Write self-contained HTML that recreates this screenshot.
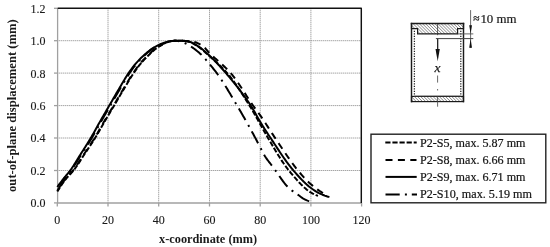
<!DOCTYPE html>
<html><head><meta charset="utf-8"><style>
html,body{margin:0;padding:0;background:#fff;width:550px;height:247px;overflow:hidden}
svg{display:block;will-change:transform}
text{font-family:"Liberation Serif",serif;fill:#1a1a1a}
</style></head><body>
<svg width="550" height="247" viewBox="0 0 550 247">
<defs>
<pattern id="hatch" patternUnits="userSpaceOnUse" width="2.2" height="2.2" patternTransform="rotate(-45)">
<line x1="0" y1="0" x2="0" y2="2.2" stroke="#2a2a2a" stroke-width="0.8"/>
</pattern>
</defs>
<g stroke="#808080" stroke-width="1" stroke-dasharray="1 1" fill="none">
<line x1="57.3" y1="170.5" x2="361.2" y2="170.5"/><line x1="57.3" y1="138.0" x2="361.2" y2="138.0"/><line x1="57.3" y1="105.6" x2="361.2" y2="105.6"/><line x1="57.3" y1="73.1" x2="361.2" y2="73.1"/><line x1="57.3" y1="40.7" x2="361.2" y2="40.7"/><line x1="108.0" y1="8.3" x2="108.0" y2="202.9"/><line x1="158.7" y1="8.3" x2="158.7" y2="202.9"/><line x1="209.5" y1="8.3" x2="209.5" y2="202.9"/><line x1="260.2" y1="8.3" x2="260.2" y2="202.9"/><line x1="310.9" y1="8.3" x2="310.9" y2="202.9"/>
</g>
<g stroke="#a0a0a0" stroke-width="1.3" fill="none">
<line x1="54" y1="202.9" x2="57.3" y2="202.9"/><line x1="54" y1="170.5" x2="57.3" y2="170.5"/><line x1="54" y1="138.0" x2="57.3" y2="138.0"/><line x1="54" y1="105.6" x2="57.3" y2="105.6"/><line x1="54" y1="73.1" x2="57.3" y2="73.1"/><line x1="54" y1="40.7" x2="57.3" y2="40.7"/><line x1="54" y1="8.3" x2="57.3" y2="8.3"/><line x1="57.3" y1="202.9" x2="57.3" y2="206.5"/><line x1="108.0" y1="202.9" x2="108.0" y2="206.5"/><line x1="158.7" y1="202.9" x2="158.7" y2="206.5"/><line x1="209.5" y1="202.9" x2="209.5" y2="206.5"/><line x1="260.2" y1="202.9" x2="260.2" y2="206.5"/><line x1="310.9" y1="202.9" x2="310.9" y2="206.5"/><line x1="361.6" y1="202.9" x2="361.6" y2="206.5"/>
<line x1="57.6" y1="8.2" x2="57.6" y2="203"/>
<line x1="57.6" y1="203" x2="361.3" y2="203"/>
</g>
<g stroke="#111" stroke-width="1.45" stroke-linejoin="round" fill="none">
<path d="M57.6,8.2 H361.3 V203"/>
</g>
<g font-size="12" stroke="#1a1a1a" stroke-width="0.12">
<text x="45.6" y="207.3" text-anchor="end" textLength="15" lengthAdjust="spacingAndGlyphs">0.0</text><text x="45.6" y="174.9" text-anchor="end" textLength="15" lengthAdjust="spacingAndGlyphs">0.2</text><text x="45.6" y="142.4" text-anchor="end" textLength="15" lengthAdjust="spacingAndGlyphs">0.4</text><text x="45.6" y="110.0" text-anchor="end" textLength="15" lengthAdjust="spacingAndGlyphs">0.6</text><text x="45.6" y="77.5" text-anchor="end" textLength="15" lengthAdjust="spacingAndGlyphs">0.8</text><text x="45.6" y="45.1" text-anchor="end" textLength="15" lengthAdjust="spacingAndGlyphs">1.0</text><text x="45.6" y="12.7" text-anchor="end" textLength="15" lengthAdjust="spacingAndGlyphs">1.2</text>
<text x="57.3" y="224.3" text-anchor="middle">0</text><text x="108.0" y="224.3" text-anchor="middle">20</text><text x="158.7" y="224.3" text-anchor="middle">40</text><text x="209.5" y="224.3" text-anchor="middle">60</text><text x="260.2" y="224.3" text-anchor="middle">80</text><text x="310.9" y="224.3" text-anchor="middle">100</text><text x="361.6" y="224.3" text-anchor="middle">120</text>
</g>
<text x="208.1" y="242.6" text-anchor="middle" font-weight="bold" font-size="12.3">x-coordinate (mm)</text>
<text transform="translate(16.1,105.6) rotate(-90)" text-anchor="middle" font-weight="bold" font-size="12.65">out-of-plane displacement (mm)</text>
<g fill="none" stroke="#000" stroke-width="2" stroke-linejoin="round">
<path d="M57.30,187.00 L57.98,186.07 L58.66,185.14 L59.35,184.21 L60.03,183.30 L60.71,182.39 L61.39,181.49 L62.07,180.59 L62.76,179.71 L63.44,178.83 L64.12,177.96 L64.80,177.13 L65.48,176.31 L66.17,175.50 L66.85,174.69 L67.53,173.88 L68.21,173.06 L68.89,172.21 L69.58,171.34 L70.26,170.43 L70.94,169.48 L71.62,168.50 L72.30,167.50 L72.99,166.47 L73.67,165.42 L74.35,164.35 L75.03,163.27 L75.71,162.18 L76.40,161.08 L77.08,159.97 L77.76,158.86 L78.44,157.75 L79.12,156.65 L79.81,155.55 L80.49,154.47 L81.17,153.39 L81.85,152.32 L82.53,151.25 L83.22,150.18 L83.90,149.11 L84.58,148.04 L85.26,146.96 L85.94,145.88 L86.63,144.80 L87.31,143.71 L87.99,142.61 L88.67,141.50 L89.35,140.39 L90.04,139.26 L90.72,138.12 L91.40,136.96 L92.08,135.78 L92.76,134.59 L93.45,133.39 L94.13,132.17 L94.81,130.94 L95.49,129.71 L96.17,128.48 L96.86,127.25 L97.54,126.02 L98.22,124.79 L98.90,123.57 L99.58,122.37 L100.27,121.17 L100.95,119.98 L101.63,118.79 L102.31,117.61 L102.99,116.43 L103.68,115.25 L104.36,114.07 L105.04,112.90 L105.72,111.72 L106.40,110.55 L107.09,109.37 L107.77,108.20 L108.45,107.03 L109.13,105.85 L109.81,104.67 L110.49,103.49 L111.18,102.31 L111.86,101.13 L112.54,99.94 L113.22,98.76 L113.90,97.58 L114.59,96.40 L115.27,95.22 L115.95,94.04 L116.63,92.87 L117.31,91.71 L118.00,90.55 L118.68,89.39 L119.36,88.24 L120.04,87.09 L120.72,85.93 L121.41,84.77 L122.09,83.60 L122.77,82.44 L123.45,81.29 L124.13,80.14 L124.82,79.01 L125.50,77.89 L126.18,76.79 L126.86,75.71 L127.54,74.66 L128.23,73.63 L128.91,72.64 L129.59,71.65 L130.27,70.68 L130.95,69.73 L131.64,68.79 L132.32,67.87 L133.00,66.97 L133.68,66.09 L134.36,65.23 L135.05,64.40 L135.73,63.59 L136.41,62.81 L137.09,62.05 L137.77,61.31 L138.46,60.58 L139.14,59.87 L139.82,59.18 L140.50,58.50 L141.18,57.84 L141.87,57.19 L142.55,56.55 L143.23,55.92 L143.91,55.31 L144.59,54.70 L145.28,54.10 L145.96,53.50 L146.64,52.91 L147.32,52.33 L148.00,51.76 L148.69,51.20 L149.37,50.66 L150.05,50.13 L150.73,49.63 L151.41,49.14 L152.10,48.68 L152.78,48.25 L153.46,47.82 L154.14,47.42 L154.82,47.03 L155.51,46.65 L156.19,46.29 L156.87,45.94 L157.55,45.60 L158.23,45.27 L158.92,44.95 L159.60,44.64 L160.28,44.33 L160.96,44.03 L161.64,43.74 L162.33,43.45 L163.01,43.18 L163.69,42.92 L164.37,42.69 L165.05,42.47 L165.74,42.28 L166.42,42.10 L167.10,41.92 L167.78,41.75 L168.46,41.59 L169.15,41.44 L169.83,41.31 L170.51,41.20 L171.19,41.10 L171.87,41.03 L172.56,40.97 L173.24,40.92 L173.92,40.87 L174.60,40.82 L175.28,40.78 L175.97,40.75 L176.65,40.72 L177.33,40.71 L178.01,40.70 L178.69,40.70 L179.38,40.71 L180.06,40.73 L180.74,40.76 L181.42,40.79 L182.10,40.83 L182.79,40.87 L183.47,40.92 L184.15,40.97 L184.83,41.03 L185.51,41.09 L186.20,41.16 L186.88,41.23 L187.56,41.31 L188.24,41.39 L188.92,41.53 L189.61,41.71 L190.29,41.94 L190.97,42.21 L191.65,42.51 L192.33,42.84 L193.02,43.20 L193.70,43.58 L194.38,43.98 L195.06,44.39 L195.74,44.80 L196.43,45.22 L197.11,45.63 L197.79,46.04 L198.47,46.47 L199.15,46.92 L199.84,47.39 L200.52,47.89 L201.20,48.40 L201.88,48.94 L202.56,49.49 L203.25,50.06 L203.93,50.64 L204.61,51.23 L205.29,51.83 L205.97,52.44 L206.66,53.05 L207.34,53.68 L208.02,54.30 L208.70,54.93 L209.38,55.55 L210.07,56.18 L210.75,56.82 L211.43,57.47 L212.11,58.13 L212.79,58.80 L213.48,59.48 L214.16,60.17 L214.84,60.86 L215.52,61.57 L216.20,62.28 L216.88,63.00 L217.57,63.73 L218.25,64.46 L218.93,65.20 L219.61,65.95 L220.29,66.71 L220.98,67.46 L221.66,68.23 L222.34,69.00 L223.02,69.77 L223.70,70.55 L224.39,71.34 L225.07,72.12 L225.75,72.92 L226.43,73.71 L227.11,74.51 L227.80,75.31 L228.48,76.11 L229.16,76.92 L229.84,77.73 L230.52,78.54 L231.21,79.36 L231.89,80.18 L232.57,81.01 L233.25,81.84 L233.93,82.68 L234.62,83.52 L235.30,84.36 L235.98,85.22 L236.66,86.08 L237.34,86.94 L238.03,87.81 L238.71,88.69 L239.39,89.58 L240.07,90.47 L240.75,91.37 L241.44,92.27 L242.12,93.19 L242.80,94.11 L243.48,95.04 L244.16,95.98 L244.85,96.92 L245.53,97.88 L246.21,98.84 L246.89,99.82 L247.57,100.80 L248.26,101.79 L248.94,102.80 L249.62,103.81 L250.30,104.83 L250.98,105.87 L251.67,106.94 L252.35,108.05 L253.03,109.20 L253.71,110.38 L254.39,111.59 L255.08,112.81 L255.76,114.03 L256.44,115.27 L257.12,116.49 L257.80,117.71 L258.49,118.92 L259.17,120.10 L259.85,121.25 L260.53,122.38 L261.21,123.49 L261.90,124.59 L262.58,125.68 L263.26,126.77 L263.94,127.85 L264.62,128.92 L265.31,129.99 L265.99,131.04 L266.67,132.10 L267.35,133.14 L268.03,134.18 L268.72,135.22 L269.40,136.25 L270.08,137.27 L270.76,138.30 L271.44,139.32 L272.13,140.35 L272.81,141.38 L273.49,142.41 L274.17,143.44 L274.85,144.48 L275.54,145.51 L276.22,146.54 L276.90,147.58 L277.58,148.61 L278.26,149.64 L278.95,150.66 L279.63,151.68 L280.31,152.70 L280.99,153.71 L281.67,154.72 L282.36,155.72 L283.04,156.71 L283.72,157.70 L284.40,158.67 L285.08,159.64 L285.77,160.60 L286.45,161.55 L287.13,162.48 L287.81,163.41 L288.49,164.32 L289.18,165.22 L289.86,166.10 L290.54,166.97 L291.22,167.83 L291.90,168.67 L292.59,169.50 L293.27,170.30 L293.95,171.10 L294.63,171.89 L295.31,172.67 L296.00,173.45 L296.68,174.22 L297.36,174.99 L298.04,175.75 L298.72,176.50 L299.41,177.24 L300.09,177.97 L300.77,178.70 L301.45,179.41 L302.13,180.12 L302.82,180.81 L303.50,181.49 L304.18,182.16 L304.86,182.81 L305.54,183.46 L306.23,184.08 L306.91,184.70 L307.59,185.30 L308.27,185.88 L308.95,186.45 L309.64,187.00 L310.32,187.54 L311.00,188.05 L311.68,188.55 L312.36,189.05 L313.05,189.53 L313.73,190.00 L314.41,190.45 L315.09,190.89 L315.77,191.32 L316.46,191.73 L317.14,192.13 L317.82,192.50 L318.50,192.87 L319.18,193.21 L319.86,193.53 L320.55,193.85 L321.23,194.15 L321.91,194.45 L322.59,194.75 L323.27,195.03 L323.96,195.30 L324.64,195.57 L325.32,195.82 L326.00,196.06 L326.68,196.29 L327.37,196.50 L328.05,196.70 L328.73,196.89 L329.41,197.06"/>
<path d="M57.30,190.74 L57.97,189.67 L58.65,188.61 L59.32,187.58 L59.99,186.56 L60.67,185.56 L61.34,184.58 L62.02,183.62 L62.69,182.67 L63.36,181.75 L64.04,180.84 L64.71,179.96 L65.38,179.09 L66.06,178.24 L66.73,177.44 L67.41,176.68 L68.08,175.94 L68.75,175.22 L69.43,174.51 L70.10,173.80 L70.77,173.07 L71.45,172.33 L72.12,171.56 L72.80,170.75 L73.47,169.89 L74.14,168.99 L74.82,168.07 L75.49,167.12 L76.16,166.15 L76.84,165.16 L77.51,164.15 L78.19,163.12 L78.86,162.08 L79.53,161.04 L80.21,159.99 L80.88,158.94 L81.55,157.89 L82.23,156.84 L82.90,155.80 L83.58,154.77 L84.25,153.76 L84.92,152.75 L85.60,151.74 L86.27,150.74 L86.94,149.74 L87.62,148.73 L88.29,147.73 L88.97,146.72 L89.64,145.71 L90.31,144.69 L90.99,143.66 L91.66,142.63 L92.33,141.58 L93.01,140.53 L93.68,139.46 L94.35,138.38 L95.03,137.29 L95.70,136.17 L96.38,135.03 L97.05,133.88 L97.72,132.72 L98.40,131.54 L99.07,130.36 L99.74,129.17 L100.42,127.98 L101.09,126.80 L101.77,125.61 L102.44,124.43 L103.11,123.26 L103.79,122.10 L104.46,120.95 L105.13,119.81 L105.81,118.67 L106.48,117.53 L107.16,116.40 L107.83,115.27 L108.50,114.14 L109.18,113.01 L109.85,111.88 L110.52,110.75 L111.20,109.62 L111.87,108.49 L112.55,107.36 L113.22,106.22 L113.89,105.08 L114.57,103.94 L115.24,102.79 L115.91,101.64 L116.59,100.49 L117.26,99.34 L117.94,98.18 L118.61,97.03 L119.28,95.88 L119.96,94.73 L120.63,93.58 L121.30,92.44 L121.98,91.30 L122.65,90.17 L123.32,89.04 L124.00,87.92 L124.67,86.80 L125.35,85.67 L126.02,84.54 L126.69,83.41 L127.37,82.29 L128.04,81.17 L128.71,80.06 L129.39,78.96 L130.06,77.87 L130.74,76.79 L131.41,75.74 L132.08,74.70 L132.76,73.69 L133.43,72.69 L134.10,71.71 L134.78,70.74 L135.45,69.79 L136.13,68.84 L136.80,67.91 L137.47,67.00 L138.15,66.11 L138.82,65.24 L139.49,64.39 L140.17,63.57 L140.84,62.77 L141.52,62.00 L142.19,61.24 L142.86,60.50 L143.54,59.78 L144.21,59.07 L144.88,58.38 L145.56,57.70 L146.23,57.03 L146.91,56.36 L147.58,55.70 L148.25,55.05 L148.93,54.40 L149.60,53.75 L150.27,53.10 L150.95,52.46 L151.62,51.82 L152.30,51.20 L152.97,50.60 L153.64,50.02 L154.32,49.46 L154.99,48.93 L155.66,48.43 L156.34,47.95 L157.01,47.51 L157.68,47.08 L158.36,46.66 L159.03,46.26 L159.71,45.87 L160.38,45.49 L161.05,45.12 L161.73,44.74 L162.40,44.36 L163.07,43.97 L163.75,43.59 L164.42,43.23 L165.10,42.89 L165.77,42.60 L166.44,42.35 L167.12,42.13 L167.79,41.92 L168.46,41.73 L169.14,41.54 L169.81,41.38 L170.49,41.24 L171.16,41.13 L171.83,41.05 L172.51,41.00 L173.18,40.95 L173.85,40.91 L174.53,40.87 L175.20,40.84 L175.88,40.80 L176.55,40.78 L177.22,40.75 L177.90,40.73 L178.57,40.72 L179.24,40.71 L179.92,40.70 L180.59,40.70 L181.27,40.71 L181.94,40.72 L182.61,40.74 L183.29,40.77 L183.96,40.80 L184.63,40.84 L185.31,40.88 L185.98,40.93 L186.66,40.99 L187.33,41.05 L188.00,41.11 L188.68,41.18 L189.35,41.25 L190.02,41.33 L190.70,41.41 L191.37,41.50 L192.04,41.58 L192.72,41.67 L193.39,41.78 L194.07,41.92 L194.74,42.10 L195.41,42.30 L196.09,42.54 L196.76,42.79 L197.43,43.08 L198.11,43.39 L198.78,43.71 L199.46,44.06 L200.13,44.42 L200.80,44.81 L201.48,45.20 L202.15,45.61 L202.82,46.03 L203.50,46.53 L204.17,47.14 L204.85,47.81 L205.52,48.54 L206.19,49.32 L206.87,50.11 L207.54,50.91 L208.21,51.69 L208.89,52.43 L209.56,53.13 L210.24,53.79 L210.91,54.45 L211.58,55.09 L212.26,55.72 L212.93,56.34 L213.60,56.96 L214.28,57.57 L214.95,58.17 L215.63,58.77 L216.30,59.36 L216.97,59.95 L217.65,60.54 L218.32,61.13 L218.99,61.72 L219.67,62.31 L220.34,62.90 L221.02,63.50 L221.69,64.10 L222.36,64.71 L223.04,65.32 L223.71,65.94 L224.38,66.57 L225.06,67.21 L225.73,67.86 L226.40,68.52 L227.08,69.19 L227.75,69.88 L228.43,70.58 L229.10,71.30 L229.77,72.03 L230.45,72.78 L231.12,73.55 L231.79,74.35 L232.47,75.17 L233.14,76.02 L233.82,76.89 L234.49,77.78 L235.16,78.69 L235.84,79.62 L236.51,80.57 L237.18,81.53 L237.86,82.51 L238.53,83.50 L239.21,84.50 L239.88,85.51 L240.55,86.53 L241.23,87.56 L241.90,88.60 L242.57,89.64 L243.25,90.69 L243.92,91.74 L244.60,92.79 L245.27,93.84 L245.94,94.89 L246.62,95.94 L247.29,96.98 L247.96,98.02 L248.64,99.05 L249.31,100.07 L249.99,101.08 L250.66,102.09 L251.33,103.08 L252.01,104.05 L252.68,105.02 L253.35,105.96 L254.03,106.90 L254.70,107.82 L255.37,108.73 L256.05,109.64 L256.72,110.55 L257.40,111.46 L258.07,112.37 L258.74,113.30 L259.42,114.23 L260.09,115.18 L260.76,116.15 L261.44,117.14 L262.11,118.13 L262.79,119.13 L263.46,120.14 L264.13,121.16 L264.81,122.19 L265.48,123.22 L266.15,124.26 L266.83,125.30 L267.50,126.35 L268.18,127.39 L268.85,128.44 L269.52,129.48 L270.20,130.52 L270.87,131.56 L271.54,132.60 L272.22,133.63 L272.89,134.65 L273.57,135.67 L274.24,136.68 L274.91,137.68 L275.59,138.67 L276.26,139.67 L276.93,140.67 L277.61,141.67 L278.28,142.68 L278.96,143.69 L279.63,144.70 L280.30,145.71 L280.98,146.72 L281.65,147.73 L282.32,148.73 L283.00,149.74 L283.67,150.75 L284.35,151.75 L285.02,152.75 L285.69,153.74 L286.37,154.73 L287.04,155.72 L287.71,156.70 L288.39,157.67 L289.06,158.63 L289.73,159.59 L290.41,160.54 L291.08,161.48 L291.76,162.41 L292.43,163.34 L293.10,164.25 L293.78,165.15 L294.45,166.04 L295.12,166.91 L295.80,167.78 L296.47,168.63 L297.15,169.46 L297.82,170.28 L298.49,171.09 L299.17,171.90 L299.84,172.70 L300.51,173.49 L301.19,174.28 L301.86,175.05 L302.54,175.82 L303.21,176.58 L303.88,177.33 L304.56,178.07 L305.23,178.79 L305.90,179.50 L306.58,180.20 L307.25,180.87 L307.93,181.54 L308.60,182.18 L309.27,182.81 L309.95,183.42 L310.62,184.01 L311.29,184.58 L311.97,185.14 L312.64,185.70 L313.32,186.25 L313.99,186.79 L314.66,187.32 L315.34,187.84 L316.01,188.36 L316.68,188.87 L317.36,189.36 L318.03,189.85 L318.71,190.33 L319.38,190.80 L320.05,191.25 L320.73,191.70 L321.40,192.13 L322.07,192.55 L322.75,192.96 L323.42,193.35 L324.09,193.73 L324.77,194.10 L325.44,194.45 L326.12,194.79" stroke-dasharray="6.8 5.32" stroke-dashoffset="3.99"/>
<path d="M57.30,191.55 L57.95,190.47 L58.61,189.41 L59.26,188.38 L59.91,187.36 L60.57,186.35 L61.22,185.37 L61.87,184.41 L62.53,183.46 L63.18,182.54 L63.83,181.64 L64.49,180.75 L65.14,179.89 L65.79,179.05 L66.45,178.23 L67.10,177.46 L67.75,176.73 L68.41,176.02 L69.06,175.33 L69.71,174.66 L70.37,173.99 L71.02,173.31 L71.67,172.61 L72.33,171.89 L72.98,171.13 L73.63,170.33 L74.29,169.49 L74.94,168.61 L75.59,167.71 L76.25,166.78 L76.90,165.83 L77.55,164.86 L78.21,163.88 L78.86,162.88 L79.52,161.87 L80.17,160.85 L80.82,159.83 L81.48,158.81 L82.13,157.79 L82.78,156.77 L83.44,155.76 L84.09,154.76 L84.74,153.78 L85.40,152.80 L86.05,151.82 L86.70,150.85 L87.36,149.88 L88.01,148.90 L88.66,147.93 L89.32,146.95 L89.97,145.97 L90.62,144.99 L91.28,143.99 L91.93,142.99 L92.58,141.98 L93.24,140.97 L93.89,139.94 L94.54,138.90 L95.20,137.84 L95.85,136.77 L96.50,135.68 L97.16,134.57 L97.81,133.45 L98.46,132.31 L99.12,131.17 L99.77,130.02 L100.42,128.87 L101.08,127.72 L101.73,126.56 L102.38,125.42 L103.04,124.27 L103.69,123.14 L104.34,122.01 L105.00,120.90 L105.65,119.79 L106.30,118.69 L106.96,117.59 L107.61,116.49 L108.26,115.39 L108.92,114.29 L109.57,113.20 L110.22,112.10 L110.88,111.01 L111.53,109.91 L112.18,108.82 L112.84,107.72 L113.49,106.62 L114.14,105.52 L114.80,104.41 L115.45,103.30 L116.10,102.18 L116.76,101.07 L117.41,99.95 L118.06,98.83 L118.72,97.71 L119.37,96.59 L120.03,95.47 L120.68,94.36 L121.33,93.25 L121.99,92.14 L122.64,91.04 L123.29,89.95 L123.95,88.86 L124.60,87.77 L125.25,86.68 L125.91,85.58 L126.56,84.49 L127.21,83.39 L127.87,82.30 L128.52,81.22 L129.17,80.14 L129.83,79.07 L130.48,78.01 L131.13,76.97 L131.79,75.94 L132.44,74.93 L133.09,73.94 L133.75,72.97 L134.40,72.02 L135.05,71.08 L135.71,70.14 L136.36,69.22 L137.01,68.32 L137.67,67.43 L138.32,66.55 L138.97,65.70 L139.63,64.86 L140.28,64.05 L140.93,63.26 L141.59,62.50 L142.24,61.75 L142.89,61.02 L143.55,60.31 L144.20,59.62 L144.85,58.93 L145.51,58.26 L146.16,57.60 L146.81,56.95 L147.47,56.31 L148.12,55.67 L148.77,55.04 L149.43,54.41 L150.08,53.78 L150.73,53.15 L151.39,52.52 L152.04,51.91 L152.69,51.31 L153.35,50.72 L154.00,50.15 L154.65,49.60 L155.31,49.07 L155.96,48.58 L156.61,48.11 L157.27,47.67 L157.92,47.24 L158.57,46.83 L159.23,46.44 L159.88,46.05 L160.53,45.67 L161.19,45.30 L161.84,44.92 L162.50,44.54 L163.15,44.14 L163.80,43.75 L164.46,43.37 L165.11,43.01 L165.76,42.69 L166.42,42.42 L167.07,42.20 L167.72,41.99 L168.38,41.79 L169.03,41.60 L169.68,41.44 L170.34,41.29 L170.99,41.17 L171.64,41.08 L172.30,41.01 L172.95,40.96 L173.60,40.91 L174.26,40.87 L174.91,40.83 L175.56,40.79 L176.22,40.76 L176.87,40.74 L177.52,40.72 L178.18,40.71 L178.83,40.70 L179.48,40.70 L180.14,40.72 L180.79,40.74 L181.44,40.77 L182.10,40.82 L182.75,40.87 L183.40,40.93 L184.06,41.00 L184.71,41.07 L185.36,41.15 L186.02,41.24 L186.67,41.33 L187.32,41.42 L187.98,41.52 L188.63,41.65 L189.28,41.82 L189.94,42.04 L190.59,42.29 L191.24,42.57 L191.90,42.88 L192.55,43.22 L193.20,43.58 L193.86,43.95 L194.51,44.34 L195.16,44.74 L195.82,45.15 L196.47,45.55 L197.12,45.96 L197.78,46.36 L198.43,46.78 L199.08,47.23 L199.74,47.70 L200.39,48.19 L201.04,48.70 L201.70,49.22 L202.35,49.77 L203.00,50.32 L203.66,50.89 L204.31,51.46 L204.97,52.05 L205.62,52.64 L206.27,53.23 L206.93,53.82 L207.58,54.42 L208.23,55.01 L208.89,55.60 L209.54,56.18 L210.19,56.76 L210.85,57.33 L211.50,57.91 L212.15,58.48 L212.81,59.06 L213.46,59.64 L214.11,60.22 L214.77,60.80 L215.42,61.38 L216.07,61.97 L216.73,62.56 L217.38,63.16 L218.03,63.76 L218.69,64.37 L219.34,64.99 L219.99,65.61 L220.65,66.24 L221.30,66.88 L221.95,67.53 L222.61,68.18 L223.26,68.85 L223.91,69.53 L224.57,70.22 L225.22,70.92 L225.87,71.63 L226.53,72.36 L227.18,73.10 L227.83,73.86 L228.49,74.64 L229.14,75.43 L229.79,76.24 L230.45,77.06 L231.10,77.90 L231.75,78.75 L232.41,79.62 L233.06,80.50 L233.71,81.40 L234.37,82.30 L235.02,83.22 L235.67,84.15 L236.33,85.09 L236.98,86.04 L237.63,87.01 L238.29,87.98 L238.94,88.95 L239.59,89.94 L240.25,90.94 L240.90,91.94 L241.55,92.95 L242.21,93.96 L242.86,94.98 L243.51,96.01 L244.17,97.04 L244.82,98.07 L245.48,99.11 L246.13,100.15 L246.78,101.19 L247.44,102.23 L248.09,103.28 L248.74,104.32 L249.40,105.37 L250.05,106.42 L250.70,107.49 L251.36,108.57 L252.01,109.68 L252.66,110.79 L253.32,111.92 L253.97,113.06 L254.62,114.21 L255.28,115.36 L255.93,116.52 L256.58,117.68 L257.24,118.85 L257.89,120.01 L258.54,121.18 L259.20,122.34 L259.85,123.49 L260.50,124.64 L261.16,125.80 L261.81,126.97 L262.46,128.15 L263.12,129.33 L263.77,130.51 L264.42,131.69 L265.08,132.86 L265.73,134.02 L266.38,135.17 L267.04,136.31 L267.69,137.43 L268.34,138.53 L269.00,139.63 L269.65,140.73 L270.30,141.83 L270.96,142.94 L271.61,144.04 L272.26,145.15 L272.92,146.26 L273.57,147.36 L274.22,148.46 L274.88,149.55 L275.53,150.64 L276.18,151.73 L276.84,152.81 L277.49,153.88 L278.14,154.95 L278.80,156.00 L279.45,157.05 L280.10,158.08 L280.76,159.10 L281.41,160.11 L282.06,161.11 L282.72,162.10 L283.37,163.06 L284.02,164.02 L284.68,164.95 L285.33,165.87 L285.98,166.77 L286.64,167.65 L287.29,168.51 L287.95,169.35 L288.60,170.17 L289.25,170.97 L289.91,171.76 L290.56,172.55 L291.21,173.34 L291.87,174.13 L292.52,174.91 L293.17,175.68 L293.83,176.45 L294.48,177.21 L295.13,177.96 L295.79,178.71 L296.44,179.45 L297.09,180.18 L297.75,180.90 L298.40,181.61 L299.05,182.31 L299.71,183.00 L300.36,183.68 L301.01,184.34 L301.67,185.00 L302.32,185.64 L302.97,186.26 L303.63,186.87 L304.28,187.47 L304.93,188.05 L305.59,188.61 L306.24,189.16 L306.89,189.69 L307.55,190.20 L308.20,190.69 L308.85,191.17 L309.51,191.62 L310.16,192.05 L310.81,192.47 L311.47,192.86 L312.12,193.24 L312.77,193.60 L313.43,193.94 L314.08,194.27 L314.73,194.59 L315.39,194.88 L316.04,195.17 L316.69,195.43 L317.35,195.69 L318.00,195.93" stroke-dasharray="5.2 1.9" stroke-dashoffset="0.47"/>
<path d="M57.30,192.19 L57.93,190.73 L58.57,189.31 L59.20,187.92 L59.83,186.58 L60.47,185.28 L61.10,184.03 L61.74,182.83 L62.37,181.68 L63.00,180.59 L63.64,179.55 L64.27,178.58 L64.90,177.67 L65.54,176.84 L66.17,176.06 L66.81,175.32 L67.44,174.61 L68.07,173.91 L68.71,173.21 L69.34,172.50 L69.97,171.75 L70.61,170.97 L71.24,170.13 L71.87,169.25 L72.51,168.35 L73.14,167.43 L73.78,166.48 L74.41,165.52 L75.04,164.54 L75.68,163.55 L76.31,162.55 L76.94,161.54 L77.58,160.53 L78.21,159.51 L78.85,158.49 L79.48,157.47 L80.11,156.46 L80.75,155.45 L81.38,154.46 L82.01,153.47 L82.65,152.49 L83.28,151.50 L83.91,150.52 L84.55,149.54 L85.18,148.56 L85.82,147.58 L86.45,146.60 L87.08,145.61 L87.72,144.61 L88.35,143.61 L88.98,142.60 L89.62,141.58 L90.25,140.56 L90.89,139.52 L91.52,138.47 L92.15,137.41 L92.79,136.33 L93.42,135.23 L94.05,134.12 L94.69,133.00 L95.32,131.86 L95.95,130.72 L96.59,129.58 L97.22,128.43 L97.86,127.28 L98.49,126.13 L99.12,124.99 L99.76,123.86 L100.39,122.73 L101.02,121.62 L101.66,120.51 L102.29,119.40 L102.93,118.30 L103.56,117.20 L104.19,116.11 L104.83,115.01 L105.46,113.92 L106.09,112.83 L106.73,111.74 L107.36,110.65 L107.99,109.55 L108.63,108.46 L109.26,107.37 L109.90,106.28 L110.53,105.19 L111.16,104.09 L111.80,103.00 L112.43,101.90 L113.06,100.80 L113.70,99.70 L114.33,98.60 L114.97,97.50 L115.60,96.40 L116.23,95.31 L116.87,94.21 L117.50,93.13 L118.13,92.04 L118.77,90.96 L119.40,89.88 L120.03,88.82 L120.67,87.75 L121.30,86.68 L121.94,85.60 L122.57,84.52 L123.20,83.44 L123.84,82.37 L124.47,81.30 L125.10,80.24 L125.74,79.18 L126.37,78.14 L127.01,77.12 L127.64,76.11 L128.27,75.11 L128.91,74.14 L129.54,73.19 L130.17,72.26 L130.81,71.34 L131.44,70.43 L132.07,69.53 L132.71,68.64 L133.34,67.77 L133.98,66.91 L134.61,66.08 L135.24,65.26 L135.88,64.47 L136.51,63.69 L137.14,62.95 L137.78,62.22 L138.41,61.51 L139.05,60.82 L139.68,60.14 L140.31,59.48 L140.95,58.83 L141.58,58.19 L142.21,57.57 L142.85,56.95 L143.48,56.35 L144.11,55.75 L144.75,55.17 L145.38,54.59 L146.02,54.01 L146.65,53.43 L147.28,52.87 L147.92,52.31 L148.55,51.75 L149.18,51.22 L149.82,50.69 L150.45,50.18 L151.08,49.69 L151.72,49.22 L152.35,48.78 L152.99,48.35 L153.62,47.95 L154.25,47.55 L154.89,47.18 L155.52,46.81 L156.15,46.46 L156.79,46.12 L157.42,45.79 L158.06,45.47 L158.69,45.16 L159.32,44.87 L159.96,44.57 L160.59,44.27 L161.22,43.98 L161.86,43.70 L162.49,43.42 L163.12,43.16 L163.76,42.92 L164.39,42.69 L165.03,42.50 L165.66,42.32 L166.29,42.17 L166.93,42.01 L167.56,41.86 L168.19,41.71 L168.83,41.56 L169.46,41.42 L170.10,41.29 L170.73,41.16 L171.36,41.05 L172.00,40.95 L172.63,40.87 L173.26,40.80 L173.90,40.75 L174.53,40.71 L175.16,40.70 L175.80,40.71 L176.43,40.76 L177.07,40.84 L177.70,40.94 L178.33,41.07 L178.97,41.21 L179.60,41.37 L180.23,41.54 L180.87,41.73 L181.50,41.92 L182.14,42.11 L182.77,42.30 L183.40,42.51 L184.04,42.74 L184.67,43.01 L185.30,43.30 L185.94,43.61 L186.57,43.94 L187.20,44.29 L187.84,44.65 L188.47,45.02 L189.11,45.40 L189.74,45.79 L190.37,46.17 L191.01,46.57 L191.64,46.97 L192.27,47.39 L192.91,47.82 L193.54,48.26 L194.18,48.72 L194.81,49.19 L195.44,49.67 L196.08,50.17 L196.71,50.67 L197.34,51.19 L197.98,51.72 L198.61,52.26 L199.24,52.81 L199.88,53.38 L200.51,53.95 L201.15,54.54 L201.78,55.15 L202.41,55.79 L203.05,56.46 L203.68,57.16 L204.31,57.88 L204.95,58.62 L205.58,59.37 L206.22,60.13 L206.85,60.90 L207.48,61.67 L208.12,62.44 L208.75,63.21 L209.38,63.97 L210.02,64.72 L210.65,65.47 L211.28,66.22 L211.92,66.97 L212.55,67.73 L213.19,68.49 L213.82,69.27 L214.45,70.06 L215.09,70.86 L215.72,71.68 L216.35,72.52 L216.99,73.38 L217.62,74.25 L218.26,75.15 L218.89,76.05 L219.52,76.97 L220.16,77.90 L220.79,78.85 L221.42,79.80 L222.06,80.77 L222.69,81.74 L223.32,82.73 L223.96,83.73 L224.59,84.73 L225.23,85.74 L225.86,86.76 L226.49,87.79 L227.13,88.83 L227.76,89.87 L228.39,90.92 L229.03,91.97 L229.66,93.02 L230.30,94.08 L230.93,95.15 L231.56,96.22 L232.20,97.28 L232.83,98.36 L233.46,99.43 L234.10,100.50 L234.73,101.57 L235.36,102.65 L236.00,103.72 L236.63,104.79 L237.27,105.86 L237.90,106.93 L238.53,108.00 L239.17,109.08 L239.80,110.17 L240.43,111.25 L241.07,112.35 L241.70,113.44 L242.34,114.54 L242.97,115.65 L243.60,116.76 L244.24,117.87 L244.87,118.99 L245.50,120.11 L246.14,121.24 L246.77,122.36 L247.40,123.50 L248.04,124.63 L248.67,125.77 L249.31,126.92 L249.94,128.06 L250.57,129.22 L251.21,130.37 L251.84,131.53 L252.47,132.69 L253.11,133.85 L253.74,135.02 L254.38,136.19 L255.01,137.37 L255.64,138.54 L256.28,139.74 L256.91,140.96 L257.54,142.18 L258.18,143.41 L258.81,144.64 L259.44,145.87 L260.08,147.08 L260.71,148.29 L261.35,149.49 L261.98,150.72 L262.61,151.95 L263.25,153.16 L263.88,154.33 L264.51,155.45 L265.15,156.51 L265.78,157.49 L266.42,158.42 L267.05,159.32 L267.68,160.18 L268.32,161.01 L268.95,161.83 L269.58,162.64 L270.22,163.45 L270.85,164.26 L271.48,165.08 L272.12,165.92 L272.75,166.79 L273.39,167.67 L274.02,168.56 L274.65,169.44 L275.29,170.31 L275.92,171.18 L276.55,172.06 L277.19,172.95 L277.82,173.86 L278.46,174.77 L279.09,175.68 L279.72,176.59 L280.36,177.50 L280.99,178.41 L281.62,179.31 L282.26,180.19 L282.89,181.06 L283.52,181.91 L284.16,182.75 L284.79,183.55 L285.43,184.34 L286.06,185.09 L286.69,185.81 L287.33,186.49 L287.96,187.13 L288.59,187.74 L289.23,188.31 L289.86,188.86 L290.50,189.39 L291.13,189.90 L291.76,190.39 L292.40,190.86 L293.03,191.32 L293.66,191.77 L294.30,192.21 L294.93,192.65 L295.56,193.08 L296.20,193.52 L296.83,193.95 L297.47,194.39 L298.10,194.83 L298.73,195.28 L299.37,195.75 L300.00,196.23 L300.63,196.71 L301.27,197.19 L301.90,197.66 L302.54,198.10 L303.17,198.52 L303.80,198.90 L304.44,199.23 L305.07,199.54 L305.70,199.84 L306.34,200.13 L306.97,200.40 L307.60,200.65 L308.24,200.88 L308.87,201.09 L309.51,201.28 L310.14,201.44" stroke-dasharray="13.4 5.6 2 5.3" stroke-dashoffset="22.05"/>
</g>
<!-- legend -->
<rect x="371" y="134.2" width="174.8" height="68.6" fill="none" stroke="#222" stroke-width="1.4"/>
<g stroke="#000" stroke-width="2" fill="none">
<line x1="385.3" y1="142.5" x2="416.7" y2="142.5" stroke-dasharray="5.2 1.9"/>
<line x1="385.5" y1="159.9" x2="416.5" y2="159.9" stroke-dasharray="7 5.4"/>
<line x1="385.5" y1="176.9" x2="416.7" y2="176.9"/>
<line x1="385.5" y1="194.6" x2="417" y2="194.6" stroke-dasharray="14.2 5.2 2 4.9"/>
</g>
<g font-size="12.5" stroke="#000" stroke-width="0.2">
<text x="420" y="146.6" textLength="105.5" lengthAdjust="spacingAndGlyphs">P2-S5, max. 5.87 mm</text>
<text x="420" y="163.6" textLength="105.5" lengthAdjust="spacingAndGlyphs">P2-S8, max. 6.66 mm</text>
<text x="420" y="180.6" textLength="105.5" lengthAdjust="spacingAndGlyphs">P2-S9, max. 6.71 mm</text>
<text x="420" y="197.6" textLength="112" lengthAdjust="spacingAndGlyphs">P2-S10, max. 5.19 mm</text>
</g>
<!-- inset -->
<g>
<path d="M411.5,23.5 H463.5 V28.6 H457.6 V33.9 H417.6 V28.6 H411.5 Z" fill="url(#hatch)" stroke="#1a1a1a" stroke-width="1.2"/>
<rect x="411.5" y="96.4" width="52" height="5.2" fill="url(#hatch)" stroke="#1a1a1a" stroke-width="1.2"/>
<line x1="411.5" y1="22.8" x2="411.5" y2="102.3" stroke="#1a1a1a" stroke-width="1.45"/>
<line x1="463.5" y1="22.8" x2="463.5" y2="102.3" stroke="#1a1a1a" stroke-width="1.45"/>
<line x1="410.8" y1="23.5" x2="464.2" y2="23.5" stroke="#1a1a1a" stroke-width="1.45"/>
<line x1="414.4" y1="30.8" x2="414.4" y2="95.6" stroke="#222" stroke-width="1.25" stroke-dasharray="1.2 1.3"/>
<line x1="460.8" y1="30.8" x2="460.8" y2="95.6" stroke="#222" stroke-width="1.25" stroke-dasharray="1.2 1.3"/>
<line x1="414" y1="95.8" x2="461" y2="95.8" stroke="#777" stroke-width="0.6"/>
<line x1="437.6" y1="24" x2="437.6" y2="35.2" stroke="#333" stroke-width="0.8"/>
<line x1="437.7" y1="38.6" x2="437.7" y2="50" stroke="#111" stroke-width="1.2"/>
<path d="M435.5,49 L439.8,49 L437.7,61.3 Z" fill="#111"/>
<line x1="437.6" y1="75.5" x2="437.6" y2="82.6" stroke="#444" stroke-width="0.8"/>
<line x1="437.6" y1="89" x2="437.6" y2="90.5" stroke="#444" stroke-width="0.8"/>
<line x1="437.6" y1="96" x2="437.6" y2="106.7" stroke="#444" stroke-width="0.8"/>
<line x1="435.9" y1="38.6" x2="473.3" y2="38.6" stroke="#444" stroke-width="1"/>
<line x1="457.6" y1="33.9" x2="473.3" y2="33.9" stroke="#555" stroke-width="0.9"/>
<line x1="470.6" y1="10.1" x2="470.6" y2="48" stroke="#444" stroke-width="0.8"/>
<path d="M469.2,25.2 L472,25.2 L470.6,33.6 Z" fill="#111"/>
<path d="M469.2,47.8 L472,47.8 L470.6,39.1 Z" fill="#111"/>
<text x="434.4" y="72.3" font-style="italic" font-size="13.5" stroke="#1a1a1a" stroke-width="0.25">x</text>
<text x="473.3" y="21.8" font-size="11.5" stroke="#1a1a1a" stroke-width="0.3">&#8776;</text><text x="480.4" y="22.5" font-size="12.6" stroke="#1a1a1a" stroke-width="0.2" textLength="36.2" lengthAdjust="spacingAndGlyphs">10 mm</text>
</g>
</svg>
</body></html>
